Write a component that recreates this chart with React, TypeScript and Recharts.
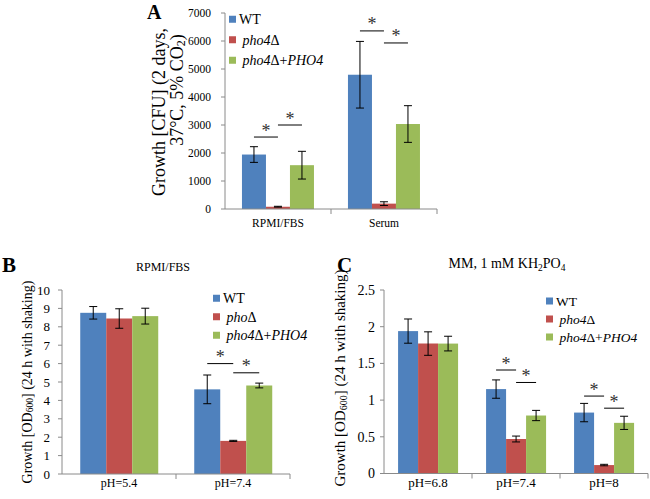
import React from 'react'
import { BarChart, Bar, XAxis, YAxis, ErrorBar, Legend } from 'recharts'

const SERIF = '"Liberation Serif", "Times New Roman", Times, serif'
const AXIS = '#8a8a8a'
const BLUE = '#4f81bd'
const RED = '#c0504d'
const GREEN = '#9bbb59'

// panel A - CFU
const aCategories = ['RPMI/FBS', 'Serum']
const aWT = [1945, 4795]
const aWTErr = [280, 1190]
const aPho = [82, 192]
const aPhoErr = [15, 66]
const aComp = [1565, 3035]
const aCompErr = [495, 655]
const aSig1 = [2570, 6360]
const aSig2 = [3000, 5930]
const aTicks = [0, 1000, 2000, 3000, 4000, 5000, 6000, 7000]

// panel B - RPMI/FBS OD600
const bCategories = ['pH=5.4', 'pH=7.4']
const bWT = [8.76, 4.6]
const bWTErr = [0.34, 0.78]
const bPho = [8.45, 1.8]
const bPhoErr = [0.53, 0.03]
const bComp = [8.58, 4.81]
const bCompErr = [0.43, 0.13]
const bSig1 = [null, 6.0]
const bSig2 = [null, 5.5]
const bTicks = [0, 1, 2, 3, 4, 5, 6, 7, 8, 9, 10]

// panel C - MM OD600
const cCategories = ['pH=6.8', 'pH=7.4', 'pH=8']
const cWT = [1.94, 1.15, 0.83]
const cWTErr = [0.165, 0.125, 0.125]
const cPho = [1.77, 0.47, 0.115]
const cPhoErr = [0.16, 0.04, 0.01]
const cComp = [1.77, 0.79, 0.69]
const cCompErr = [0.1, 0.07, 0.09]
const cSig1 = [null, 1.41, 1.055]
const cSig2 = [null, 1.24, 0.89]
const cTicks = [0, 0.5, 1, 1.5, 2, 2.5]

const legendA = ['WT', ' pho4Δ', ' pho4Δ+PHO4']
const legendB = ['WT', ' phoΔ', ' pho4Δ+PHO4']
const legendC = ['WT', ' pho4Δ', ' pho4Δ+PHO4']
const legendColors = [BLUE, RED, GREEN]

function buildRows(cats: string[], wt: number[], wtE: number[], pho: number[], phoE: number[],
  comp: number[], compE: number[], s1: (number | null)[], s2: (number | null)[]) {
  return cats.map((name, i) => ({
    name, wt: wt[i], wtErr: wtE[i], pho: pho[i], phoErr: phoE[i],
    comp: comp[i], compErr: compE[i], sig1: s1[i], sig2: s2[i],
  }))
}

const rowsA = buildRows(aCategories, aWT, aWTErr, aPho, aPhoErr, aComp, aCompErr, aSig1, aSig2)
const rowsB = buildRows(bCategories, bWT, bWTErr, bPho, bPhoErr, bComp, bCompErr, bSig1, bSig2)
const rowsC = buildRows(cCategories, cWT, cWTErr, cPho, cPhoErr, cComp, cCompErr, cSig1, cSig2)

// bar + significance bracket, y of bracket taken from the bar's own scale
function sigShape(key: string, sigKey: string, toRight: boolean) {
  return (props: any) => {
    const { x, y, width, height, fill, payload } = props
    const val = payload[key]
    const sig = payload[sigKey]
    let mark = null
    if (sig != null && val > 0 && height > 0) {
      const sy = y + height - (sig / val) * height
      const cx = x + width / 2
      const x1 = toRight ? cx : cx - width
      const x2 = toRight ? cx + width : cx
      mark = (
        <g>
          <line x1={x1} x2={x2} y1={sy} y2={sy} stroke="#000" strokeWidth={1} />
          <text x={(x1 + x2) / 2} y={sy - 0.5} textAnchor="middle" fontSize={18}
            fontFamily={SERIF} fill="#333">*</text>
        </g>
      )
    }
    return (
      <g>
        <rect x={x} y={y} width={width} height={height} fill={fill} />
        {mark}
      </g>
    )
  }
}

function catTick(band: number, fontSize: number, margin: number) {
  return (props: any) => {
    const { x, y, payload } = props
    return (
      <g>
        <text x={x} y={y} dy="0.71em" textAnchor="middle" fontSize={fontSize}
          fontFamily={SERIF} fill="#000">{payload.value}</text>
        <line x1={x + band / 2} x2={x + band / 2} y1={y - margin} y2={y - margin + 5} stroke={AXIS} />
      </g>
    )
  }
}

function numTick(fontSize: number) {
  return (props: any) => {
    const { x, y, payload } = props
    return (
      <text x={x} y={y} dy="0.355em" textAnchor="end" fontSize={fontSize}
        fontFamily={SERIF} fill="#000">{payload.value}</text>
    )
  }
}

function legendContent(labels: string[], fontSize: number, rowH: number) {
  return () => (
    <svg width={130} height={rowH * labels.length} fontFamily={SERIF} fontSize={fontSize}>
      {labels.map((l, i) => {
        const parts = l.split(/(pho4|pho|PHO4)/)
        const cy = rowH * i + rowH / 2
        return (
          <g key={l}>
            <rect x={0} y={cy - 3.5} width={7} height={7} fill={legendColors[i]} />
            <text x={10} y={cy} dy="0.35em" xmlSpace="preserve" style={{ whiteSpace: 'pre' }}>
              {parts.filter((p) => p !== '').map((p, j) => (
                <tspan key={j} fontStyle={/^(pho4|pho|PHO4)$/.test(p) ? 'italic' : 'normal'}>{p}</tspan>
              ))}
            </text>
          </g>
        )
      })}
    </svg>
  )
}

type PanelProps = {
  rows: any[]; width: number; height: number; margin: any; yWidth: number; xHeight: number
  domain: [number, number]; ticks: number[]; yFont: number; yMargin: number
  band: number; xFont: number; xMargin: number
  legend: string[]; legendFont: number; legendRow: number; legendLeft: number; legendTop: number
}

function Panel(p: PanelProps) {
  return (
    <BarChart width={p.width} height={p.height} data={p.rows} margin={p.margin}
      barCategoryGap="16%" barGap={0} style={{ fontFamily: SERIF }}>
      <XAxis dataKey="name" height={p.xHeight} stroke={AXIS} tickLine={false} tickSize={0}
        tickMargin={p.xMargin} tick={catTick(p.band, p.xFont, p.xMargin)} interval={0} />
      <YAxis width={p.yWidth} domain={p.domain} ticks={p.ticks} stroke={AXIS} tickSize={4}
        tickMargin={p.yMargin} interval={0} tick={numTick(p.yFont)} />
      <Legend layout="vertical" align="center" verticalAlign="middle"
        wrapperStyle={{ left: p.legendLeft, top: p.legendTop, width: 'auto', height: 'auto' }}
        content={legendContent(p.legend, p.legendFont, p.legendRow)} />
      <Bar dataKey="wt" fill={BLUE} isAnimationActive={false} shape={sigShape('wt', 'sig1', true)}>
        <ErrorBar dataKey="wtErr" width={4} stroke="#000" strokeWidth={1} />
      </Bar>
      <Bar dataKey="pho" fill={RED} isAnimationActive={false}>
        <ErrorBar dataKey="phoErr" width={4} stroke="#000" strokeWidth={1} />
      </Bar>
      <Bar dataKey="comp" fill={GREEN} isAnimationActive={false} shape={sigShape('comp', 'sig2', false)}>
        <ErrorBar dataKey="compErr" width={4} stroke="#000" strokeWidth={1} />
      </Bar>
    </BarChart>
  )
}

export default function App() {
  return (
    <div style={{ position: 'relative', width: 650, height: 499, background: '#fff', overflow: 'hidden', fontFamily: SERIF }}>
      <style>{'body{margin:0}'}</style>
      <div style={{ position: 'absolute', left: 140, top: 0 }}>
        <Panel rows={rowsA} width={310} height={240} margin={{ top: 13, right: 13, bottom: 6, left: 0 }}
          yWidth={85} xHeight={25} domain={[0, 7000]} ticks={aTicks} yFont={11.5} yMargin={10}
          band={106} xFont={11.5} xMargin={10}
          legend={legendA} legendFont={14} legendRow={20.5} legendLeft={89} legendTop={9} />
      </div>
      <div style={{ position: 'absolute', left: 0, top: 250 }}>
        <Panel rows={rowsB} width={300} height={250} margin={{ top: 40, right: 10, bottom: 2, left: 0 }}
          yWidth={62} xHeight={24} domain={[0, 10]} ticks={bTicks} yFont={13} yMargin={8}
          band={114} xFont={12} xMargin={4}
          legend={legendB} legendFont={14} legendRow={18.5} legendLeft={213} legendTop={39} />
      </div>
      <div style={{ position: 'absolute', left: 325, top: 250 }}>
        <Panel rows={rowsC} width={325} height={250} margin={{ top: 40, right: 2, bottom: 2.5, left: 0 }}
          yWidth={59} xHeight={24} domain={[0, 2.5]} ticks={cTicks} yFont={14} yMargin={5}
          band={88} xFont={13} xMargin={4}
          legend={legendC} legendFont={13.5} legendRow={18} legendLeft={221} legendTop={42} />
      </div>
      <svg width={650} height={499} style={{ position: 'absolute', left: 0, top: 0, pointerEvents: 'none' }}
        fontFamily={SERIF}>
        <text x={147} y={19} fontSize={20} fontWeight="bold">A</text>
        <text x={2} y={272} fontSize={21} fontWeight="bold">B</text>
        <text x={337} y={272} fontSize={21} fontWeight="bold">C</text>
        <text transform="translate(159,112) rotate(-90)" textAnchor="middle" dominantBaseline="central" fontSize={18}>
          Growth [CFU] (2 days,
        </text>
        <text transform="translate(177,90) rotate(-90)" textAnchor="middle" dominantBaseline="central" fontSize={18}>
          37°C, 5% CO<tspan fontSize={12} dy={4}>2</tspan><tspan dy={-4}>)</tspan>
        </text>
        <text x={163} y={271} textAnchor="middle" fontSize={12}>RPMI/FBS</text>
        <text x={507} y={268} textAnchor="middle" fontSize={14}>
          MM, 1 mM KH<tspan fontSize={9.5} dy={3}>2</tspan><tspan dy={-3}>PO</tspan><tspan fontSize={9.5} dy={3}>4</tspan>
        </text>
        <text transform="translate(27,382) rotate(-90)" textAnchor="middle" dominantBaseline="central" fontSize={14}>
          Growth [OD<tspan fontSize={9.5} dy={3}>600</tspan><tspan dy={-3}>] (24 h with shaking)</tspan>
        </text>
        <text transform="translate(340,378) rotate(-90)" textAnchor="middle" dominantBaseline="central" fontSize={15}>
          Growth [OD<tspan fontSize={10} dy={3}>600</tspan><tspan dy={-3}>] (24 h with shaking)</tspan>
        </text>
      </svg>
    </div>
  )
}
